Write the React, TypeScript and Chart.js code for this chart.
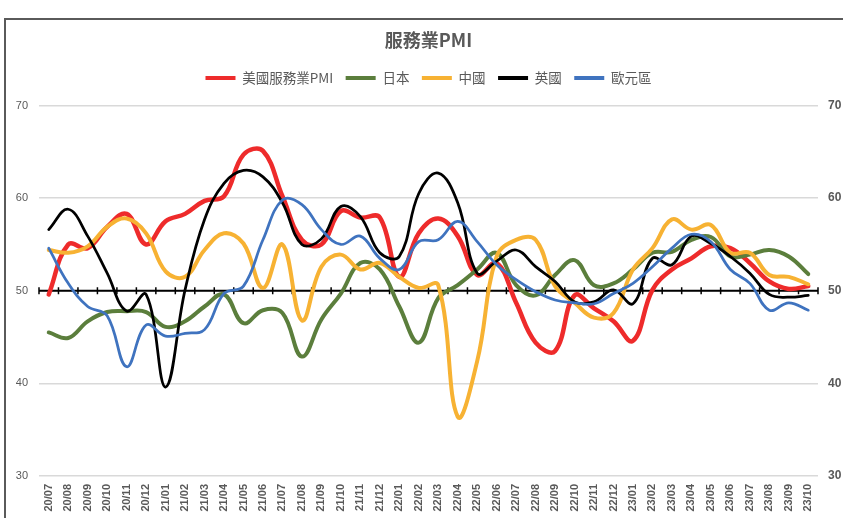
import React, { useEffect, useRef } from 'react';
import { Chart, registerables } from 'chart.js';

Chart.register(...registerables);

// ---- data ----
const months = [
  '20/07', '20/08', '20/09', '20/10', '20/11', '20/12',
  '21/01', '21/02', '21/03', '21/04', '21/05', '21/06', '21/07', '21/08', '21/09', '21/10', '21/11', '21/12',
  '22/01', '22/02', '22/03', '22/04', '22/05', '22/06', '22/07', '22/08', '22/09', '22/10', '22/11', '22/12',
  '23/01', '23/02', '23/03', '23/04', '23/05', '23/06', '23/07', '23/08', '23/09', '23/10',
];

const usServices = [
  49.6, 55.0, 54.6, 56.9, 58.3, 55.0, 57.5, 58.3, 59.7, 60.2,
  64.7, 65.1, 60.2, 55.5, 55.0, 58.6, 57.9, 57.9, 51.5, 56.2,
  57.8, 55.9, 51.7, 53.0, 48.7, 44.4, 43.5, 49.5, 48.1, 46.7,
  44.6, 50.1, 52.3, 53.5, 54.8, 54.6, 53.0, 51.0, 50.2, 50.5,
];
const japan = [
  45.5, 44.9, 46.7, 47.7, 47.8, 47.7, 46.1, 46.7, 48.3, 49.6,
  46.5, 47.9, 47.6, 42.9, 46.9, 49.7, 53.0, 52.3, 48.3, 44.4,
  49.2, 50.6, 52.3, 54.1, 50.6, 49.5, 51.7, 53.3, 50.6, 50.8,
  52.3, 54.1, 54.2, 55.5, 55.8, 53.7, 53.9, 54.4, 53.7, 51.8,
];
const china = [
  54.4, 54.1, 54.8, 56.9, 57.8, 56.2, 52.1, 51.5, 54.4, 56.2,
  55.1, 50.3, 55.0, 46.8, 52.6, 53.9, 52.3, 53.0, 51.5, 50.3,
  50.6, 36.4, 42.4, 53.7, 55.5, 55.5, 50.5, 48.7, 47.1, 47.6,
  52.3, 54.6, 57.7, 56.6, 57.1, 54.1, 54.1, 51.7, 51.5, 50.7,
];
const uk = [
  56.6, 58.8, 55.9, 51.9, 47.8, 49.6, 39.6, 50.1, 57.7, 61.6,
  63.0, 62.3, 59.5, 55.0, 55.6, 59.1, 58.0, 54.1, 53.7, 60.5,
  62.7, 59.5, 51.9, 53.2, 54.4, 52.6, 51.0, 48.8, 48.8, 50.1,
  48.6, 53.5, 52.8, 55.9, 55.1, 53.7, 51.9, 49.6, 49.3, 49.5,
];
const euro = [
  54.6, 50.8, 48.3, 47.3, 41.8, 46.3, 45.1, 45.4, 45.8, 49.7,
  50.5, 55.5, 59.8, 59.3, 56.6, 55.0, 55.9, 53.5, 52.3, 55.3,
  55.5, 57.5, 55.3, 52.8, 51.2, 49.9, 49.0, 48.7, 48.6, 49.7,
  50.8, 52.6, 54.6, 56.1, 55.3, 52.3, 50.8, 47.9, 48.7, 47.9,
];

const seriesNames = ['美國服務業PMI', '日本', '中國', '英國', '歐元區'];
const seriesData = [usServices, japan, china, uk, euro];
const seriesColors = ['#EE2B2B', '#5B7E3C', '#F7B233', '#000000', '#3F73BF'];
const seriesWidths = [4.5, 4, 4, 2.75, 2.75];

const yMin = 30;
const yMax = 70;
const yStep = 10;
const axisCross = 50;

const CJK = '"Noto Sans CJK TC", "Noto Sans", sans-serif';
const LATIN = '"Liberation Sans", Arial, sans-serif';
const TEXT = '#595959';

const framePlugin = {
  id: 'frame',
  beforeDraw(chart: any) {
    const { ctx } = chart;
    ctx.save();
    ctx.strokeStyle = '#5a5a5a';
    ctx.lineWidth = 2;
    ctx.strokeRect(5, 19, 900, 600);
    ctx.restore();
  },
};

const crossAxisPlugin = {
  id: 'crossAxis',
  beforeDatasetsDraw(chart: any) {
    const { ctx, chartArea, scales } = chart;
    const y = scales.y.getPixelForValue(axisCross);
    const xs = scales.x;
    const n = chart.data.labels.length;
    const step = n > 1 ? xs.getPixelForValue(1) - xs.getPixelForValue(0) : 0;
    const start = xs.getPixelForValue(0) - step / 2;
    ctx.save();
    ctx.strokeStyle = '#000';
    ctx.lineWidth = 2;
    ctx.beginPath();
    ctx.moveTo(chartArea.left, y);
    ctx.lineTo(chartArea.right, y);
    ctx.stroke();
    ctx.lineWidth = 1.5;
    ctx.beginPath();
    for (let i = 0; i <= n; i++) {
      const px = start + i * step;
      ctx.moveTo(px, y - 3.5);
      ctx.lineTo(px, y + 3.5);
    }
    ctx.stroke();
    ctx.restore();
  },
};

const legendSpacerPlugin = {
  id: 'legendSpacer',
  beforeLayout(chart: any) {
    const lg = chart.legend;
    if (lg && !lg.__spaced) {
      const orig = lg.fit;
      lg.fit = function () {
        orig.call(this);
        this.height += 10.75;
      };
      lg.__spaced = true;
    }
  },
};

export default function App() {
  const ref = useRef<HTMLCanvasElement>(null);

  useEffect(() => {
    const canvas = ref.current;
    if (!canvas) return;
    const datasets = seriesNames.map((name, i) => ({
      label: name,
      data: seriesData[i],
      borderColor: seriesColors[i],
      backgroundColor: seriesColors[i],
      borderWidth: seriesWidths[i],
      pointRadius: 0,
      pointHoverRadius: 0,
      fill: false,
      tension: 0.4,
      borderCapStyle: 'round' as const,
      borderJoinStyle: 'round' as const,
      yAxisID: 'y',
      order: seriesNames.length - i,
    }));

    const chart = new Chart(canvas, {
      type: 'line',
      data: { labels: months, datasets },
      options: {
        responsive: false,
        animation: false,
        devicePixelRatio: 1,
        events: [],
        layout: { padding: { top: 22, left: 14, right: 0, bottom: 0 } },
        plugins: {
          title: {
            display: true,
            text: '服務業PMI',
            color: TEXT,
            font: { family: CJK, size: 18, weight: 'bold' },
            padding: { top: 7.2, bottom: 8 },
          },
          legend: {
            display: true,
            labels: {
              color: TEXT,
              font: { family: CJK, size: 13.5 },
              boxWidth: 30,
              boxHeight: 4,
              padding: 12.45,
              sort: (a: any, b: any) => a.datasetIndex - b.datasetIndex,
              generateLabels: (c: any) =>
                (Chart.defaults.plugins.legend.labels.generateLabels as any)(c).map((it: any) => ({
                  ...it,
                  fillStyle: it.strokeStyle,
                  lineWidth: 0,
                })),
            },
          },
          tooltip: { enabled: false },
        },
        scales: {
          x: {
            type: 'category',
            offset: true,
            grid: { display: false, drawTicks: false },
            border: { display: false },
            ticks: {
              autoSkip: false,
              minRotation: 90,
              maxRotation: 90,
              padding: 8,
              color: TEXT,
              font: { family: LATIN, size: 11, weight: 'bold' },
            },
            afterFit: (s: any) => {
              s.height = 64;
            },
          },
          y: {
            position: 'left',
            min: yMin,
            max: yMax,
            ticks: { stepSize: yStep, padding: 11, color: TEXT, font: { family: LATIN, size: 11 } },
            grid: { color: '#d9d9d9', lineWidth: 1.5, drawTicks: false },
            border: { display: false },
            afterFit: (s: any) => {
              s.width = 25;
            },
          },
          y2: {
            position: 'right',
            min: yMin,
            max: yMax,
            display: true,
            ticks: { stepSize: yStep, padding: 10, color: TEXT, font: { family: LATIN, size: 12, weight: 'bold' } },
            grid: { display: false, drawTicks: false },
            border: { display: false },
            afterFit: (s: any) => {
              s.width = 25;
            },
          },
        },
      } as any,
      plugins: [framePlugin, crossAxisPlugin, legendSpacerPlugin],
    });
    return () => chart.destroy();
  }, []);

  return (
    <div
      style={{
        position: 'fixed',
        left: 0,
        top: 0,
        width: 843,
        height: 518,
        overflow: 'hidden',
        background: '#fff',
      }}
    >
      <canvas ref={ref} width={843} height={540} style={{ display: 'block', width: 843, height: 540 }} />
    </div>
  );
}
